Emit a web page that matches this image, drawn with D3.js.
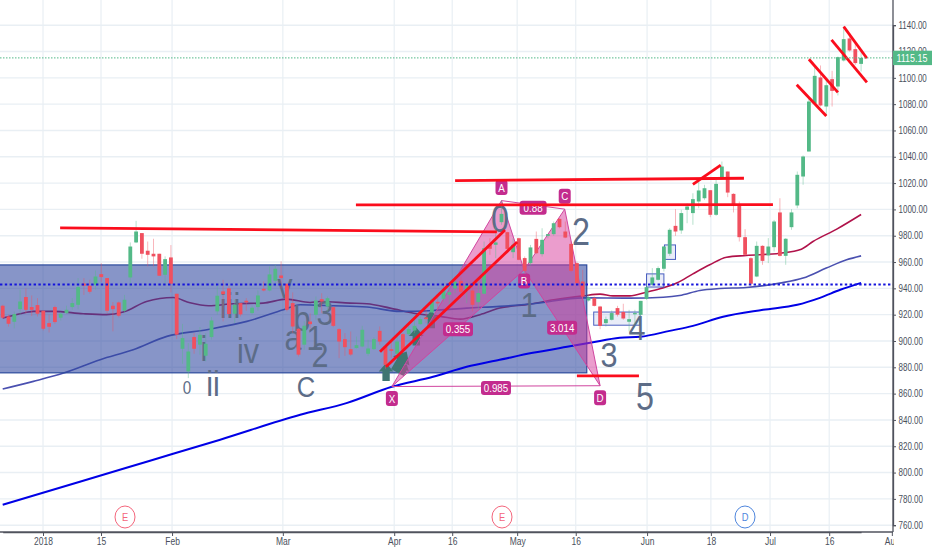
<!DOCTYPE html>
<html><head><meta charset="utf-8">
<script src="https://cdn.jsdelivr.net/npm/d3@7"></script>
<style>html,body{margin:0;padding:0;background:#fff}svg{display:block}text{font-family:"Liberation Sans",Arial,sans-serif}</style>
</head><body><svg id="c" width="932" height="550"></svg>
<script>
const opens=[926.8,918.7,914.6,924.2,933.4,925.8,927.3,923,913.6,925.8,
917.7,921.2,925.8,927.5,943.7,942,942.7,950.8,947.8,926.8,
929.3,923,948.3,974.9,982,968.6,966.3,966.3,950.3,963.5,
935.9,894.1,876.9,903,897.2,888.8,903,922.5,937.7,940,
920.7,928.8,930.6,921.2,925.8,939.7,938.4,945.8,949.8,943.5,
928.8,909.3,897.2,914.8,919.9,931.8,926.2,925.7,909,901.4,
893.8,894.6,895.8,890.3,893.8,907.7,895.8,893.8,890.3,905.2,
905.2,908,912.8,917.9,921.7,929.8,932.1,935.1,939.9,945.7,
938.9,938.4,929.5,935.9,973.1,973.1,990.3,982.7,967.5,978.1,
963,959.2,977.6,966,979.9,981.2,992.8,983.2,973.8,959.2,
945.2,930.8,932.6,926.2,913.6,916.1,925,922,914.6,920.7,
919.9,932,942.7,946.5,954.9,966.3,987.5,984,999.7,997.2,
1006,1008.5,1014.6,995.9,1023.2,1028.8,1011.8,1003.5,978.9,962.9,
949,972.3,965,971.3,997.7,964.7,986.5,1003,1025,1044,
1080.3,1100.3,1078.2,1099,1093.4,1113.2,1129.9,1121.8,1110.6];
const closes=[917.7,913.1,920.5,930,923.7,923.7,920.7,909.3,910.8,914.4,
920.7,923.7,928.8,941,942,937.4,949,948.6,923,924.2,
919.2,931.3,971.8,983.2,966.3,965.5,964.3,949.6,962.2,943.5,
904.8,902.2,892,894.1,904.7,897.9,915.6,934.4,935.6,920.5,
927.5,920.2,929.3,925.3,934.6,938.4,950.6,954.9,947.8,923.7,
911,889.6,911.6,912.8,930.8,930,932.5,911.5,899.6,895.3,
889.7,896.8,908.5,894.3,901.4,899.6,881.9,892.5,899.6,893.3,
909,911.5,916.6,916.6,931.3,928.5,938.9,937.1,945,937.4,
942.7,927.5,936.4,970.5,970.1,974.9,996.6,970,973.1,961.7,
953.3,971.1,966.7,976.9,981.2,989.5,986.5,978.6,953.3,944,
933.8,933.1,926.7,911.5,916.6,921.2,920,917.1,916.6,921.2,
930.5,940.9,948.3,955.4,971.8,984.5,983.2,997.2,1002.2,1007.8,
1014.4,1016.1,995.9,1019.4,1032.6,1012.8,1003.5,978.9,965.5,943.5,
972.3,960.9,971.8,990.8,964.7,977.7,997.7,1026.3,1040.2,1082,
1101.5,1079,1094.4,1090.1,1115.7,1129.4,1120.8,1111.2,1115.15];
const highs=[927.5,920,922.5,939,940,934.6,932.6,923,920,926.8,
921.7,926.8,932.6,947.8,947.8,946.5,953.6,959,947.8,929.6,
930,935,974.9,991.3,982,975.6,977.7,966.3,964.3,972.9,
935.9,913,898.4,906,910.6,906,918.2,942,946.5,942,
931.3,928.8,932.6,926.8,938.4,945.3,956.7,957.9,960.5,943.5,
936.9,909.3,915,921,933.8,936.3,933.8,926.2,909.7,906,
907.2,903.4,911.5,900.9,902.9,911,896.3,899.6,903.4,906,
911.5,918.6,918.6,923.7,932.5,933.8,944,942.7,949,949,
945.2,942.7,945.2,975.6,978.1,987,1007,983,978.1,978.6,
964.2,973,983.2,985.7,980.5,990.8,993.3,990.8,975.6,960.4,
954,935.1,933.8,926.7,918.6,923.2,926.7,928.3,923.7,923.7,
930.5,942.7,955.4,956.7,972.3,985.7,1000.2,999.7,1004.7,1012.3,
1023.7,1018.7,1014.6,1022.5,1036.4,1028.8,1012.3,1006,985,963.7,
975.6,972.8,978.2,992,1008.5,978.2,1000.2,1028.8,1041,1084.6,
1108.6,1109.4,1099.7,1105.3,1116.2,1139,1132.7,1126.4,1121.8];
const lows=[916.7,911,909.6,920,921,919,918.7,908,906.5,913,
915.6,920.5,923.7,924.2,935,936,939,945,921.2,907.3,
918,921.2,941,974.4,962.5,956.7,956.7,949.6,942.7,936.9,
901.5,882.7,871.8,890.3,889.6,884.5,901,920,914.9,918.7,
913.6,918.7,923,920,923,937.7,937.7,941.5,940,922.5,
906,888.3,893.4,909.7,916.1,921.1,922.4,910.5,887,888.7,
888.7,894.3,895.3,888.7,893.3,897.1,878.6,887,888.2,890.8,
903.9,906,912.3,913.5,921.1,923.7,930,926.3,936.4,935.9,
928.8,922.5,923.7,935.9,965.5,963,988.3,968,963,961.2,
951.6,957.4,966,964.2,978,980,985.7,978.1,952.3,942.2,
932.6,930,926.2,909,911,915.6,918.6,916.1,907.3,912.3,
918.6,931.3,942,946,952.8,964.7,979.9,981.5,989.5,988.3,
1000.9,1007.3,994.1,995.1,1022.5,1009.3,997.7,975.6,964.7,941.4,
948.5,957.9,959.2,968,964.2,957.9,984.5,1000.9,1018.7,1044,
1079.5,1078.2,1071,1078.2,1086.6,1112.4,1120,1109.9,1104.8];

const ma50Idx=[0,3,5.3,8.7,13.9,17.9,20.8,24.8,29.4,32.3,35.5,39.8,44.9,48.9,53,54.7,59.9,62.8,66.8,71.4,75.4,78.9,82.3,85.7,90.9,95,100.1,103,105.2,108.1,111,113.3,116.2,119,121.9,124.8,128.2,134,137.7,139.7,143.8,148];
const ma50Val=[917.4,920.7,922.5,922.5,920.7,920,922,930,933,929,926.8,928.3,928.8,931.8,929.3,930,928.8,928.3,925,920.7,918.7,916.6,920,925,928,931.3,934.3,935.6,934.3,934.3,937.1,939.7,944,951,957.9,963.7,965,966.7,969.8,975.6,985,996.1];
const ma100Idx=[0,5.3,10.5,16.8,22.5,28.3,35.2,42.1,48.4,51.3,57,62.8,68.5,74.2,80,85.7,91.5,100.1,108.1,113.9,116.7,120.2,123.6,128.2,134,138,142,145.5,148];
const ma100Val=[863.5,869.3,875.6,885.8,893.4,903.5,908.6,914.9,923.7,927.5,926.8,925.8,922.5,923.2,925,926.3,928.3,932.8,932.6,933.3,934.6,938.4,939.9,940.7,944,947.8,955.4,961.7,964.7];
const ma200Idx=[0,13.3,25.4,37.5,51.3,59.4,67.1,74.2,80,85.7,91.4,97.3,101.3,106.4,109.9,115,119,124.2,131.1,137,140.9,144.4,148];
const ma200Val=[775.5,793,809,825,843.9,853,865.2,872.8,880.4,885.7,891,895.6,898.6,902.4,903.2,907.7,911.5,918.4,923.7,927.5,932.8,938.9,944.2];

const yTicks=d3.range(760,1141,20);
const xTickIdx=[6.95,16.95,29.2,48.3,67.5,77.5,88.7,98.8,111.1,122.1,132.3,142.5,153.3];
const xTickLabels=["2018","15","Feb","Mar","Apr","16","May","16","Jun","18","Jul","16","Aug"];
const lastPrice=1115.15, hLevel=943;

const redLines=[[9.9,986,85.2,983],[60.9,1003.4,132.8,1003.6],[78,1021.9,127.8,1023.7],
[65.05,891.8,86.6,984.4],[66.1,880.4,88.7,975.3],[119,1019.1,123.8,1033.7],[99,873.5,109.7,873.5],
[136.9,1094.8,142,1071],[139,1114.1,144,1089],[142.9,1128.8,149,1096.6],[145,1138.9,149,1114.9]];
const mainBox=[-1,957.8,100.7,875.8];
const smallBoxes=[[101.9,922,109.9,912],[111,951,114,941],[114.1,973,116,962]];
const patternPts={X:[67.1,865.4],A:[86,1006.7],B:[89.9,954],C:[96.9,1000.2],D:[103,866]};
const patternLetters=[["A",0,-13],["B",0,11],["C",0,-13],["D",0,12],["X",0,12]];
const ratios=[["0.88","A","C",0,3],["0.355","X","B",0,1],["3.014","B","D",0,0],["0.985","X","D",0,2]];
const arrowsData=[[66.1,876,0,1.05],[68.6,884,30,1.35],[69.2,878,25,.7],[71.3,903,0,1.05],[73.9,916,0,1.05]];
const waveLabels=[["0",187,394,18],["ii",213,396,36],["i",204,361,36],["iii",230,318,36],["iv",248,363,36],["v",285,298,36],
["b",302,331,36],["a",293,350,36],["1",315,350,36],["3",325,325,36],["2",320,367,36],["C",306,397,30],
["0",500,232,38],["2",581,245,38],["1",529,317,36],["3",609,367,36],["4",637,340,36],["5",645,410,38]];
const events=[["E",125,"#f4667c"],["E",502,"#f4667c"],["D",745,"#4f86dd"]];

const RIGHT=893,BOTTOM=532;
const x=d3.scaleLinear().domain([0,148]).range([2.7,861.1]);
const y=d3.scaleLinear().domain([760,1140]).range([525.2,25.2]);
const svg=d3.select("#c");
const defs=svg.append("defs");
defs.append("clipPath").attr("id","plot").append("rect").attr("width",RIGHT).attr("height",BOTTOM);

const plot=svg.append("g").attr("clip-path","url(#plot)");
plot.append("g").selectAll("line").data(yTicks).join("line").attr("x1",0).attr("x2",RIGHT).attr("y1",d=>y(d)).attr("y2",d=>y(d)).attr("stroke","#e9eff4").attr("stroke-width",1.4);
plot.append("g").selectAll("line").data(xTickIdx.slice(0,-1)).join("line").attr("x1",d=>x(d)).attr("x2",d=>x(d)).attr("y1",0).attr("y2",BOTTOM).attr("stroke","#e9eff4").attr("stroke-width",1.2);

const line=d3.line().x(d=>x(d[0])).y(d=>y(d[1])).curve(d3.curveMonotoneX);
const drawMA=(ix,v,c,w)=>plot.append("path").datum(ix.map((k,i)=>[k,v[i]])).attr("d",line).attr("fill","none").attr("stroke",c).attr("stroke-width",w);
drawMA(ma50Idx,ma50Val,"#b0124a",1.6);
drawMA(ma100Idx,ma100Val,"#4a50b0",1.6);

plot.append("rect").attr("x",x(mainBox[0])).attr("y",y(mainBox[1])).attr("width",x(mainBox[2])-x(mainBox[0])).attr("height",y(mainBox[3])-y(mainBox[1])).attr("fill","rgba(48,72,160,.58)").attr("stroke","#2b4a9c").attr("stroke-width",1.2);
plot.append("g").selectAll("rect").data(smallBoxes).join("rect").attr("x",d=>x(d[0])).attr("y",d=>y(d[1])).attr("width",d=>x(d[2])-x(d[0])).attr("height",d=>y(d[3])-y(d[1])).attr("fill","rgba(70,100,200,.12)").attr("stroke","#4a5fc0").attr("stroke-width",1);

drawMA(ma200Idx,ma200Val,"#0000e6",2);

const arrowPath="M0,-9 L7,-1 L3.5,-1 L3.5,8 L-3.5,8 L-3.5,-1 L-7,-1 Z";
plot.append("g").selectAll("path").data(arrowsData).join("path").attr("d",arrowPath).attr("transform",d=>`translate(${x(d[0])},${y(d[1])}) rotate(${d[2]}) scale(${d[3]})`).attr("fill","#3f7672");

const P=k=>[x(patternPts[k][0]),y(patternPts[k][1])];
const pat=plot.append("g");
[["X","A","B"],["B","C","D"]].forEach(t=>pat.append("polygon").attr("points",t.map(k=>P(k).join(",")).join(" ")).attr("fill","rgba(216,60,155,.5)").attr("stroke","#d0459f").attr("stroke-width",1));
[["A","C"],["X","D"]].forEach(s=>pat.append("line").attr("x1",P(s[0])[0]).attr("y1",P(s[0])[1]).attr("x2",P(s[1])[0]).attr("y2",P(s[1])[1]).attr("stroke","#d0459f").attr("stroke-width",1));

const stext=(g,str,px,py,size,fill,anchor)=>g.append("text").text(str).attr("transform",`translate(${px},${py}) scale(.85,1)`).attr("text-anchor",anchor||"middle").attr("font-size",size).attr("fill",fill);
const waves=plot.append("g");
waveLabels.forEach(w=>stext(waves,w[0],w[1],w[2],w[3],"#5c6c87"));

const idx=d3.range(opens.length);
const cc=i=>closes[i]>=opens[i]?"#53b987":"#f0505f";
const candles=plot.append("g");
candles.selectAll("line").data(idx).join("line").attr("x1",i=>x(i)).attr("x2",i=>x(i)).attr("y1",i=>y(highs[i])).attr("y2",i=>y(lows[i])).attr("stroke",cc).attr("stroke-opacity",.42).attr("stroke-width",1);
candles.selectAll("rect").data(idx).join("rect").attr("x",i=>x(i)-1.9).attr("width",3.8).attr("y",i=>y(Math.max(opens[i],closes[i]))).attr("height",i=>Math.max(1.2,Math.abs(y(opens[i])-y(closes[i])))).attr("fill",cc);

const box=(g,cx,cy,w,h,str)=>{g.append("rect").attr("x",cx-w/2).attr("y",cy-h/2).attr("width",w).attr("height",h).attr("rx",3).attr("fill","#c32c8e");stext(g,str,cx,cy+4,11.5,"#fff");};
const lab=plot.append("g");
ratios.forEach(r=>{const a=P(r[1]),b=P(r[2]);box(lab,(a[0]+b[0])/2+r[3],(a[1]+b[1])/2+r[4],r[0].length>4?30:27,14,r[0]);});
patternLetters.forEach(l=>{const p=P(l[0]);box(lab,p[0]+l[1],p[1]+l[2],12,15,l[0]);});

plot.append("g").selectAll("line").data(redLines).join("line").attr("x1",d=>x(d[0])).attr("y1",d=>y(d[1])).attr("x2",d=>x(d[2])).attr("y2",d=>y(d[3])).attr("stroke","#fb0d1c").attr("stroke-width",2.8);

plot.append("line").attr("x1",0).attr("x2",RIGHT).attr("y1",y(hLevel)).attr("y2",y(hLevel)).attr("stroke","#1414dc").attr("stroke-width",2).attr("stroke-dasharray","2.4,2.4");
plot.append("line").attr("x1",0).attr("x2",RIGHT).attr("y1",y(lastPrice)).attr("y2",y(lastPrice)).attr("stroke","#53b987").attr("stroke-width",1).attr("stroke-dasharray","1.5,1.5");

events.forEach(e=>{const g=plot.append("g");g.append("ellipse").attr("cx",e[1]).attr("cy",517).attr("rx",10).attr("ry",11).attr("fill","#fff").attr("stroke",e[2]).attr("stroke-width",1);stext(g,e[0],e[1],521,11,e[2]);});

const yAxis=svg.append("g").attr("transform",`translate(${RIGHT},0)`).call(d3.axisRight(y).tickValues(yTicks).tickFormat(d3.format(".2f")).tickSize(3).tickPadding(2));
const xAxis=svg.append("g").attr("transform",`translate(0,${BOTTOM})`).attr("clip-path","url(#xclipShift)");
defs.append("clipPath").attr("id","xclipShift").append("rect").attr("x",0).attr("y",0).attr("width",RIGHT+1).attr("height",18);
xAxis.call(d3.axisBottom(x).tickValues(xTickIdx).tickFormat((d,i)=>xTickLabels[i]).tickSize(4).tickPadding(2).tickSizeOuter(0));
[yAxis,xAxis].forEach(a=>{a.select(".domain").attr("stroke","#50535e").attr("stroke-width",1.3);a.selectAll(".tick line").attr("stroke","#50535e");a.selectAll("text").attr("fill","#4a4f5c").attr("font-size",10).attr("font-family",'"Liberation Sans",Arial,sans-serif');});
yAxis.selectAll("text").each(function(){const t=d3.select(this);t.attr("x",null).attr("dy",".32em").attr("transform","translate(5.5,0) scale(.8,1)");});
xAxis.selectAll(".tick text").attr("transform","scale(.85,1)");
svg.append("line").attr("x1",0).attr("x2",RIGHT).attr("y1",BOTTOM).attr("y2",BOTTOM).attr("stroke","#50535e").attr("stroke-width",1.3);
svg.append("line").attr("x1",RIGHT).attr("x2",RIGHT).attr("y1",0).attr("y2",BOTTOM).attr("stroke","#50535e").attr("stroke-width",1.3);

svg.append("rect").attr("x",RIGHT).attr("y",y(lastPrice)-7.2).attr("width",39).attr("height",14.4).attr("fill","#53b987");
stext(svg,lastPrice.toFixed(2),896.5,y(lastPrice)+3.7,10.5,"#fff","start");
</script></body></html>
